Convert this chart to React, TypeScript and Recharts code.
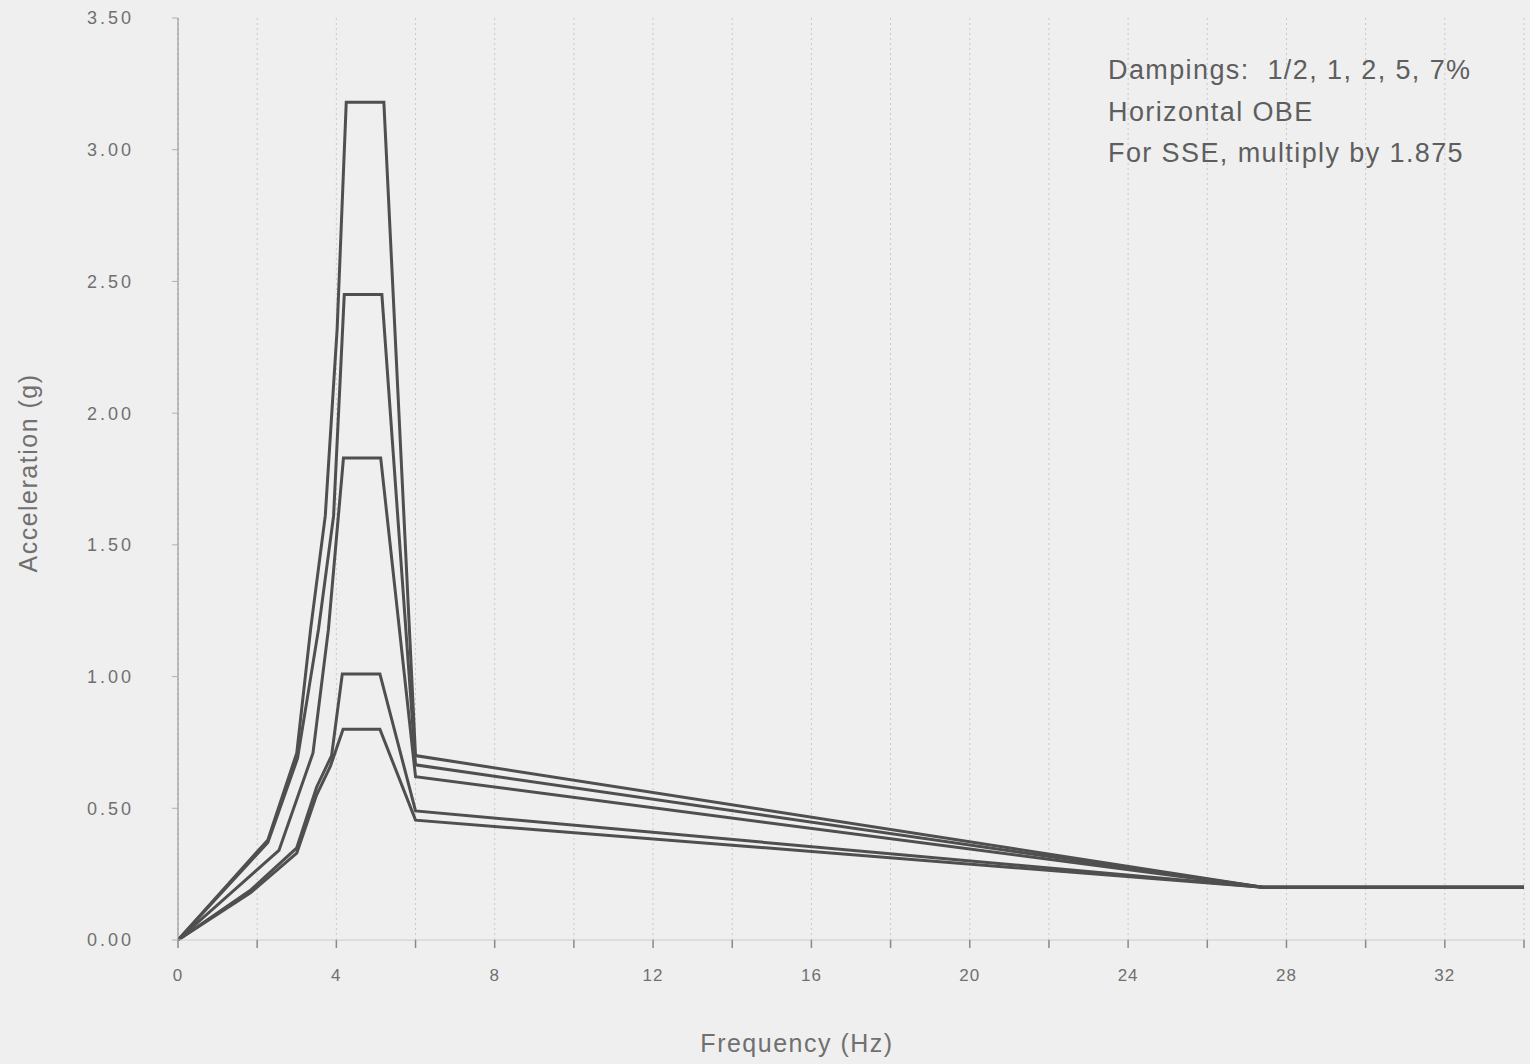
import React from 'react';
import { LineChart, Line, CartesianGrid, XAxis, YAxis } from 'recharts';

// frequency (Hz) / acceleration (g) points for each damping curve
const freqHalf = [0, 2.27, 3.0, 3.35, 3.72, 4.02, 4.25, 5.2, 6.0, 27.4, 34];
const accelHalf = [0, 0.38, 0.71, 1.18, 1.61, 2.32, 3.18, 3.18, 0.7, 0.2, 0.2];

const freqOne = [0, 2.27, 3.02, 3.55, 3.93, 4.2, 5.15, 6.0, 27.4, 34];
const accelOne = [0, 0.37, 0.69, 1.18, 1.61, 2.45, 2.45, 0.665, 0.2, 0.2];

const freqTwo = [0, 2.55, 3.41, 3.8, 4.18, 5.12, 6.0, 27.4, 34];
const accelTwo = [0, 0.34, 0.71, 1.18, 1.83, 1.83, 0.62, 0.2, 0.2];

const freqFive = [0, 1.84, 3.0, 3.5, 3.88, 4.15, 5.1, 6.0, 27.4, 34];
const accelFive = [0, 0.19, 0.35, 0.58, 0.7, 1.01, 1.01, 0.49, 0.2, 0.2];

const freqSeven = [0, 1.84, 3.0, 3.5, 3.85, 4.17, 5.1, 6.0, 27.4, 34];
const accelSeven = [0, 0.18, 0.33, 0.55, 0.66, 0.8, 0.8, 0.455, 0.2, 0.2];

const xTicks = [0, 2, 4, 6, 8, 10, 12, 14, 16, 18, 20, 22, 24, 26, 28, 30, 32, 34];
const xTickLabels = [0, 4, 8, 12, 16, 20, 24, 28, 32];
const yTicks = [0, 0.5, 1, 1.5, 2, 2.5, 3, 3.5];

const notes = ['Dampings:  1/2, 1, 2, 5, 7%', 'Horizontal OBE', 'For SSE, multiply by 1.875'];

const toRows = (f: number[], a: number[]) => f.map((v, i) => ({ f: v, a: a[i] }));

const series = [
  { name: '1/2%', rows: toRows(freqHalf, accelHalf) },
  { name: '1%', rows: toRows(freqOne, accelOne) },
  { name: '2%', rows: toRows(freqTwo, accelTwo) },
  { name: '5%', rows: toRows(freqFive, accelFive) },
  { name: '7%', rows: toRows(freqSeven, accelSeven) },
];

const font = '"Liberation Sans", Arial, sans-serif';
const lineColor = '#4f4f4f';
const textColor = '#707070';

const App: React.FC = () => {
  return (
    <div
      style={{
        position: 'absolute',
        left: 0,
        top: 0,
        width: 1530,
        height: 1064,
        background: '#efefef',
        fontFamily: font,
      }}
    >
      <LineChart
        width={1530}
        height={1064}
        margin={{ top: 18, right: 6, bottom: 12, left: 20 }}
      >
        <CartesianGrid vertical horizontal={false} stroke="#c8c8c8" strokeDasharray="2 3" />
        <XAxis
          type="number"
          dataKey="f"
          domain={[0, 34]}
          ticks={xTicks}
          allowDataOverflow
          height={112}
          stroke="#cccccc"
          tickLine={{ stroke: '#8a8a8a', strokeWidth: 1.5 }}
          tickSize={8}
          tickMargin={21}
          tick={{ fill: textColor, fontSize: 17, fontFamily: font, letterSpacing: 1 }}
          tickFormatter={(v: number) => (xTickLabels.includes(v) ? String(v) : '')}
          label={{
            value: 'Frequency (Hz)',
            position: 'insideBottom',
            offset: 0,
            dx: -54,
            fill: textColor,
            fontSize: 25,
            fontFamily: font,
            letterSpacing: 1.5,
          }}
        />
        <YAxis
          type="number"
          domain={[0, 3.5]}
          ticks={yTicks}
          width={158}
          stroke="#8a8a8a"
          tickLine={{ stroke: '#b0b0b0' }}
          tickSize={6}
          tickMargin={38}
          tick={{ fill: textColor, fontSize: 18, fontFamily: font, letterSpacing: 3 }}
          tickFormatter={(v: number) => v.toFixed(2)}
          label={{
            value: 'Acceleration (g)',
            angle: -90,
            position: 'insideLeft',
            offset: 8,
            dy: -6,
            fill: textColor,
            fontSize: 25,
            fontFamily: font,
            letterSpacing: 1.5,
            style: { textAnchor: 'middle' },
          }}
        />
        {series.map((s) => (
          <Line
            key={s.name}
            name={s.name}
            data={s.rows}
            dataKey="a"
            type="linear"
            stroke={lineColor}
            strokeWidth={3}
            dot={false}
            activeDot={false}
            isAnimationActive={false}
          />
        ))}
      </LineChart>
      <div
        style={{
          position: 'absolute',
          left: 1108,
          top: 50,
          fontSize: 27,
          lineHeight: '41.5px',
          letterSpacing: 1.4,
          color: '#5e5e5e',
          whiteSpace: 'pre',
        }}
      >
        {notes.map((n) => (
          <div key={n}>{n}</div>
        ))}
      </div>
    </div>
  );
};

export default App;
